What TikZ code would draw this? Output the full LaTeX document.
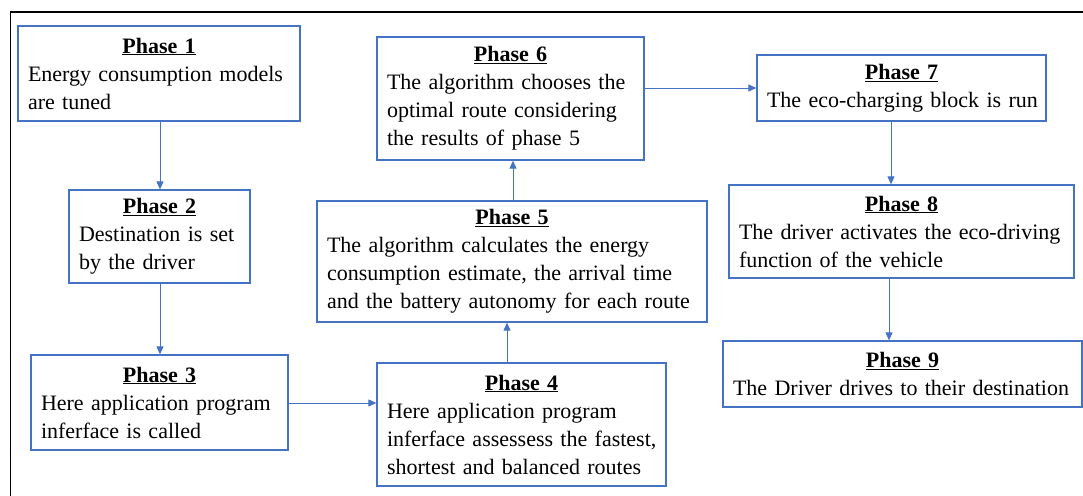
\documentclass[tikz,border=0pt]{standalone}
\usepackage{fontspec}
\setmainfont{Liberation Serif}
\usetikzlibrary{arrows.meta}
\definecolor{boxblue}{HTML}{4472C4}
\tikzset{
  x=1pt, y=-1pt,
  phase/.style={draw=boxblue, line width=1.3pt, inner xsep=10pt, inner ysep=0pt,
    align=left, font=\fontsize{22}{28}\selectfont, text=black},
  arr/.style={draw=boxblue, line width=0.9pt, -{Triangle[length=8pt,width=7pt]}},
}
\newcommand{\ptitle}[1]{{\centering\underline{\textbf{#1}}\par}}
\newcommand{\pl}[1]{\mbox{#1}}
\hbadness=10000 \hfuzz=50pt
\begin{document}
\begin{tikzpicture}
\useasboundingbox (0,0) rectangle (1083,495);
\fill[white] (0,0) rectangle (1083,495);
\draw[black, line width=1.8pt] (10.5,500) -- (10.5,12) -- (1090,12);

\node[phase, text width=262pt, minimum height=95pt] (p1) at (159,73.5)
  {\ptitle{Phase 1}\pl{Energy consumption models}\\\pl{are tuned}};
\node[phase, text width=161pt, minimum height=93pt] (p2) at (159.5,236.5)
  {\ptitle{Phase 2}\pl{Destination is set}\\\pl{by the driver}};
\node[phase, text width=237pt, minimum height=95pt] (p3) at (159.5,402.5)
  {\ptitle{Phase 3}\pl{Here application program}\\\pl{inferface is called}};
\node[phase, text width=269pt, minimum height=123pt] (p4) at (521.5,424.5)
  {\ptitle{Phase 4}\pl{Here application program}\\\pl{inferface assessess the fastest,}\\\pl{shortest and balanced routes}};
\node[phase, text width=370pt, minimum height=121pt] (p5) at (512,261.5)
  {\ptitle{Phase 5}\pl{The algorithm calculates the energy}\\\pl{consumption estimate, the arrival time}\\\pl{and the battery autonomy for each route}};
\node[phase, text width=247pt, minimum height=123pt] (p6) at (510.5,98.5)
  {\ptitle{Phase 6}\pl{The algorithm chooses the}\\\pl{optimal route considering}\\\pl{the results of phase 5}};
\node[phase, text width=269pt, minimum height=66pt] (p7) at (901.5,88)
  {\ptitle{Phase 7}\pl{The eco-charging block is run}};
\node[phase, text width=325pt, minimum height=93pt] (p8) at (901.5,231.5)
  {\ptitle{Phase 8}\pl{The driver activates the eco-driving}\\\pl{function of the vehicle}};
\node[phase, text width=339pt, minimum height=66pt] (p9) at (902.5,374)
  {\ptitle{Phase 9}\pl{The Driver drives to their destination}};

\draw[arr] (p1.south -| 160,0) -- (p2.north -| 160,0);
\draw[arr] (p2.south -| 160,0) -- (p3.north -| 160,0);
\draw[arr] (p3.east |- 0,403) -- (p4.west |- 0,403);
\draw[arr] (p4.north -| 507,0) -- (p5.south -| 507,0);
\draw[arr] (p5.north -| 513,0) -- (p6.south -| 513,0);
\draw[arr] (p6.east |- 0,88) -- (p7.west |- 0,88);
\draw[arr] (p7.south -| 891,0) -- (p8.north -| 891,0);
\draw[arr] (p8.south -| 889,0) -- (p9.north -| 889,0);
\end{tikzpicture}
\end{document}
